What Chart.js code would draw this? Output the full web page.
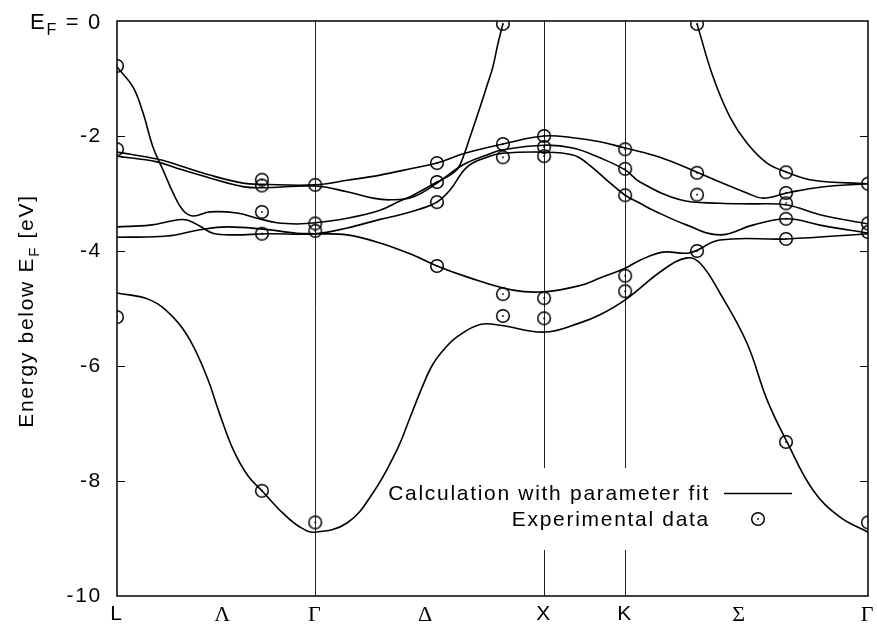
<!DOCTYPE html>
<html>
<head>
<meta charset="utf-8">
<script src="https://cdn.jsdelivr.net/npm/chart.js@4.4.0/dist/chart.umd.min.js"></script>
<style>
  html, body { margin: 0; padding: 0; background: #fff; }
</style>
</head>
<body>
<canvas id="bands" width="877" height="624"></canvas>
<script>
// positions along the path L - Γ - X - K - Γ
const kPoints = [0, 0.463, 0.866, 1.350, 1.866, 2.220, 2.720, 3.281];
const kLabels = ['L', 'Λ', 'Γ', 'Δ', 'X', 'K', 'Σ', 'Γ'];
const greek = ['Λ', 'Γ', 'Δ', 'Σ'];
const symLines = [0.866, 1.866, 2.220];
const yTicks = [-10, -8, -6, -4, -2, 0];

// fitted bands, [k, E]
const bandTop = [[0,-2.28],[0.175,-2.40],[0.262,-2.50],[0.406,-2.68],[0.550,-2.82],[0.633,-2.84],[0.866,-2.85],[1.005,-2.77],[1.149,-2.68],[1.293,-2.56],[1.398,-2.47],[1.512,-2.31],[1.686,-2.14],[1.866,-2.00],[1.992,-2.03],[2.110,-2.10],[2.220,-2.21],[2.372,-2.37],[2.534,-2.63],[2.634,-2.80],[2.752,-2.99],[2.822,-3.08],[2.927,-2.99],[3.071,-2.89],[3.281,-2.83]];
const bandSecond = [[0,-2.35],[0.175,-2.45],[0.262,-2.56],[0.406,-2.73],[0.550,-2.88],[0.633,-2.90],[0.866,-2.87],[1.005,-2.97],[1.118,-3.08],[1.193,-3.11],[1.293,-3.06],[1.398,-2.82],[1.512,-2.50],[1.616,-2.33],[1.686,-2.24],[1.866,-2.16],[1.992,-2.21],[2.110,-2.38],[2.220,-2.59],[2.285,-2.80],[2.460,-3.11],[2.634,-3.17],[2.778,-3.18],[2.927,-3.20],[3.071,-3.37],[3.281,-3.53]];
const bandSp = [[0,-0.80],[0.070,-1.15],[0.114,-1.60],[0.157,-2.19],[0.201,-2.59],[0.245,-2.99],[0.288,-3.29],[0.332,-3.39],[0.406,-3.32],[0.524,-3.34],[0.612,-3.43],[0.699,-3.51],[0.786,-3.53],[0.866,-3.51],[1.005,-3.43],[1.149,-3.29],[1.236,-3.13],[1.293,-3.03],[1.398,-2.80],[1.455,-2.68],[1.490,-2.56],[1.512,-2.37],[1.542,-2.02],[1.586,-1.50],[1.620,-1.08],[1.642,-0.80],[1.664,-0.40],[1.686,-0.05]];
const bandThird = [[0,-3.58],[0.144,-3.55],[0.262,-3.46],[0.306,-3.46],[0.363,-3.57],[0.419,-3.69],[0.507,-3.72],[0.655,-3.70],[0.866,-3.70],[1.005,-3.60],[1.149,-3.45],[1.236,-3.37],[1.324,-3.27],[1.398,-3.15],[1.455,-2.94],[1.529,-2.54],[1.616,-2.37],[1.686,-2.30],[1.866,-2.28],[1.992,-2.33],[2.053,-2.47],[2.141,-2.77],[2.220,-3.03],[2.285,-3.17],[2.342,-3.29],[2.490,-3.55],[2.634,-3.72],[2.778,-3.55],[2.927,-3.44],[3.071,-3.55],[3.281,-3.69]];
const bandFourth = [[0,-3.76],[0.218,-3.74],[0.363,-3.63],[0.481,-3.58],[0.638,-3.62],[0.786,-3.69],[0.866,-3.70],[1.005,-3.72],[1.149,-3.86],[1.293,-4.07],[1.398,-4.26],[1.529,-4.45],[1.730,-4.68],[1.866,-4.71],[2.023,-4.60],[2.110,-4.47],[2.220,-4.30],[2.285,-4.16],[2.385,-4.02],[2.503,-4.03],[2.634,-3.81],[2.927,-3.79],[3.281,-3.70]];
const bandLow = [[0,-4.73],[0.144,-4.85],[0.245,-5.15],[0.319,-5.55],[0.393,-6.19],[0.450,-6.85],[0.507,-7.45],[0.572,-7.91],[0.638,-8.19],[0.725,-8.56],[0.799,-8.80],[0.866,-8.89],[1.005,-8.73],[1.118,-8.21],[1.223,-7.46],[1.280,-6.90],[1.332,-6.38],[1.380,-5.97],[1.433,-5.69],[1.490,-5.48],[1.586,-5.28],[1.673,-5.29],[1.866,-5.41],[2.023,-5.25],[2.110,-5.11],[2.220,-4.85],[2.385,-4.33],[2.490,-4.12],[2.547,-4.21],[2.634,-4.73],[2.752,-5.60],[2.840,-6.59],[2.927,-7.32],[3.041,-8.16],[3.159,-8.63],[3.281,-8.89]];
const bandSigma = [[2.534,-0.05],[2.604,-0.97],[2.678,-1.67],[2.752,-2.12],[2.840,-2.47],[2.927,-2.63],[3.041,-2.77],[3.281,-2.83]];

// measured energies at each k position
const expK = [0, 0.633, 0.866, 1.398, 1.686, 1.866, 2.220, 2.534, 2.923, 3.281];
const expE = [
  [-0.78, -2.23, -5.15],
  [-2.76, -2.86, -3.32, -3.70, -8.17],
  [-2.85, -3.52, -3.65, -8.72],
  [-2.47, -2.80, -3.15, -4.26],
  [-0.05, -2.14, -2.37, -4.75, -5.13],
  [-2.00, -2.19, -2.35, -4.82, -5.17],
  [-2.23, -2.57, -3.03, -4.43, -4.70],
  [-0.05, -2.64, -3.02, -4.00],
  [-2.63, -2.99, -3.17, -3.44, -3.79, -7.32],
  [-2.83, -3.52, -3.67, -8.72]
];

const SANS = '"Liberation Sans", Arial, sans-serif';
const SERIF = '"Liberation Serif", "Times New Roman", serif';
const FS = 21;

// circle with a dot in the middle
function ringMark() {
  const c = document.createElement('canvas');
  c.width = 16; c.height = 16;
  const g = c.getContext('2d');
  g.strokeStyle = '#000';
  g.lineWidth = 1.5;
  g.beginPath(); g.arc(8, 8, 6.3, 0, Math.PI * 2); g.stroke();
  g.fillStyle = '#000';
  g.beginPath(); g.arc(8, 8, 0.9, 0, Math.PI * 2); g.fill();
  return c;
}
const mark = ringMark();

const expData = [];
expK.forEach(function(k, i) {
  expE[i].forEach(function(e) { expData.push({x: k, y: e}); });
});

function toXY(arr) { return arr.map(function(p) { return {x: p[0], y: p[1]}; }); }

const bandList = [bandTop, bandSecond, bandSp, bandThird, bandFourth, bandLow, bandSigma];
const datasets = [{
  label: 'Experimental data',
  data: expData,
  pointStyle: mark,
  pointRadius: 7,
  showLine: false
}];
bandList.forEach(function(b) {
  datasets.push({
    label: 'Calculation with parameter fit',
    data: toXY(b),
    showLine: true,
    borderColor: '#000',
    borderWidth: 1.6,
    pointRadius: 0,
    tension: 0.4,
    fill: false
  });
});

// text with subscript parts: [[text, isSub], ...]
function partsWidth(ctx, parts, big, small) {
  let w = 0;
  parts.forEach(function(p) {
    ctx.font = (p[1] ? small : big) + 'px ' + SANS;
    w += ctx.measureText(p[0]).width;
  });
  return w;
}
function drawParts(ctx, parts, x, y, big, small) {
  parts.forEach(function(p) {
    ctx.font = (p[1] ? small : big) + 'px ' + SANS;
    ctx.fillText(p[0], x, p[1] ? y + 6 : y);
    x += ctx.measureText(p[0]).width;
  });
}

const framePlugin = {
  id: 'frame',
  beforeDraw: function(chart) {
    chart.ctx.letterSpacing = '1.7px';
  },
  beforeDatasetsDraw: function(chart) {
    // key background hides the symmetry lines behind it
    const ctx = chart.ctx;
    ctx.save();
    ctx.fillStyle = '#fff';
    ctx.fillRect(378, 468, 420, 82);
    ctx.restore();
  },
  afterDraw: function(chart) {
    const ctx = chart.ctx;
    const a = chart.chartArea;
    const y = chart.scales.y;
    ctx.save();
    ctx.strokeStyle = '#000';
    ctx.lineWidth = 1.5;
    ctx.strokeRect(a.left, a.top, a.right - a.left, a.bottom - a.top);
    // inward ticks on both sides
    ctx.lineWidth = 1;
    [-8, -6, -4, -2].forEach(function(v) {
      const py = Math.round(y.getPixelForValue(v)) + 0.5;
      ctx.beginPath();
      ctx.moveTo(a.left, py); ctx.lineTo(a.left + 8, py);
      ctx.moveTo(a.right - 8, py); ctx.lineTo(a.right, py);
      ctx.stroke();
    });

    ctx.fillStyle = '#000';
    ctx.textBaseline = 'alphabetic';
    ctx.textAlign = 'left';
    // top tick: E_F = 0
    const top = [['E', false], ['F', true], [' = 0', false]];
    const wTop = partsWidth(ctx, top, 22, 16);
    drawParts(ctx, top, 102 - wTop, y.getPixelForValue(0) + 8, 22, 16);

    // axis title
    const title = [['Energy below E', false], ['F', true], [' [eV]', false]];
    ctx.translate(33, 311);
    ctx.rotate(-Math.PI / 2);
    const wTitle = partsWidth(ctx, title, FS, 15);
    drawParts(ctx, title, -wTitle / 2, 0, FS, 15);
    ctx.restore();

    // key
    ctx.save();
    ctx.fillStyle = '#000';
    ctx.font = FS + 'px ' + SANS;
    ctx.textAlign = 'right';
    ctx.textBaseline = 'middle';
    ctx.fillText('Calculation with parameter fit', 710, 494);
    ctx.fillText('Experimental data', 710, 520);
    ctx.strokeStyle = '#000';
    ctx.lineWidth = 1.6;
    ctx.beginPath(); ctx.moveTo(724, 493.5); ctx.lineTo(792, 493.5); ctx.stroke();
    ctx.drawImage(mark, 758 - 8, 519 - 8);
    ctx.restore();
  }
};

new Chart(document.getElementById('bands'), {
  type: 'scatter',
  data: { datasets: datasets },
  options: {
    responsive: false,
    animation: false,
    devicePixelRatio: 1,
    layout: { padding: { top: 21, right: 9, left: 0, bottom: 0 } },
    plugins: { legend: { display: false }, tooltip: { enabled: false } },
    scales: {
      x: {
        type: 'linear',
        min: 0,
        max: 3.281,
        afterBuildTicks: function(scale) {
          scale.ticks = kPoints.map(function(v) { return {value: v}; });
        },
        afterFit: function(scale) {
          scale.height = 28;
          scale.paddingLeft = 0;
          scale.paddingRight = 0;
        },
        border: { display: false },
        grid: {
          drawTicks: false,
          lineWidth: 1,
          color: function(c) {
            return c.tick && symLines.indexOf(c.tick.value) >= 0 ? '#222' : 'rgba(0,0,0,0)';
          }
        },
        ticks: {
          autoSkip: false,
          maxRotation: 0,
          padding: 6,
          color: '#000',
          callback: function(v, i) { return kLabels[i]; },
          font: function(c) {
            const lab = kLabels[c.index];
            return greek.indexOf(lab) >= 0 ? {family: SERIF, size: 22} : {family: SANS, size: FS};
          }
        }
      },
      y: {
        min: -10,
        max: 0,
        afterBuildTicks: function(scale) {
          scale.ticks = yTicks.map(function(v) { return {value: v}; });
        },
        afterFit: function(scale) {
          scale.width = 117;
          scale.paddingTop = 0;
          scale.paddingBottom = 0;
        },
        border: { display: false },
        grid: { display: false, drawTicks: false },
        ticks: {
          padding: 15,
          color: '#000',
          font: { family: SANS, size: FS },
          callback: function(v) { return v === 0 ? '' : String(v); }
        }
      }
    }
  },
  plugins: [framePlugin]
});
</script>
</body>
</html>
